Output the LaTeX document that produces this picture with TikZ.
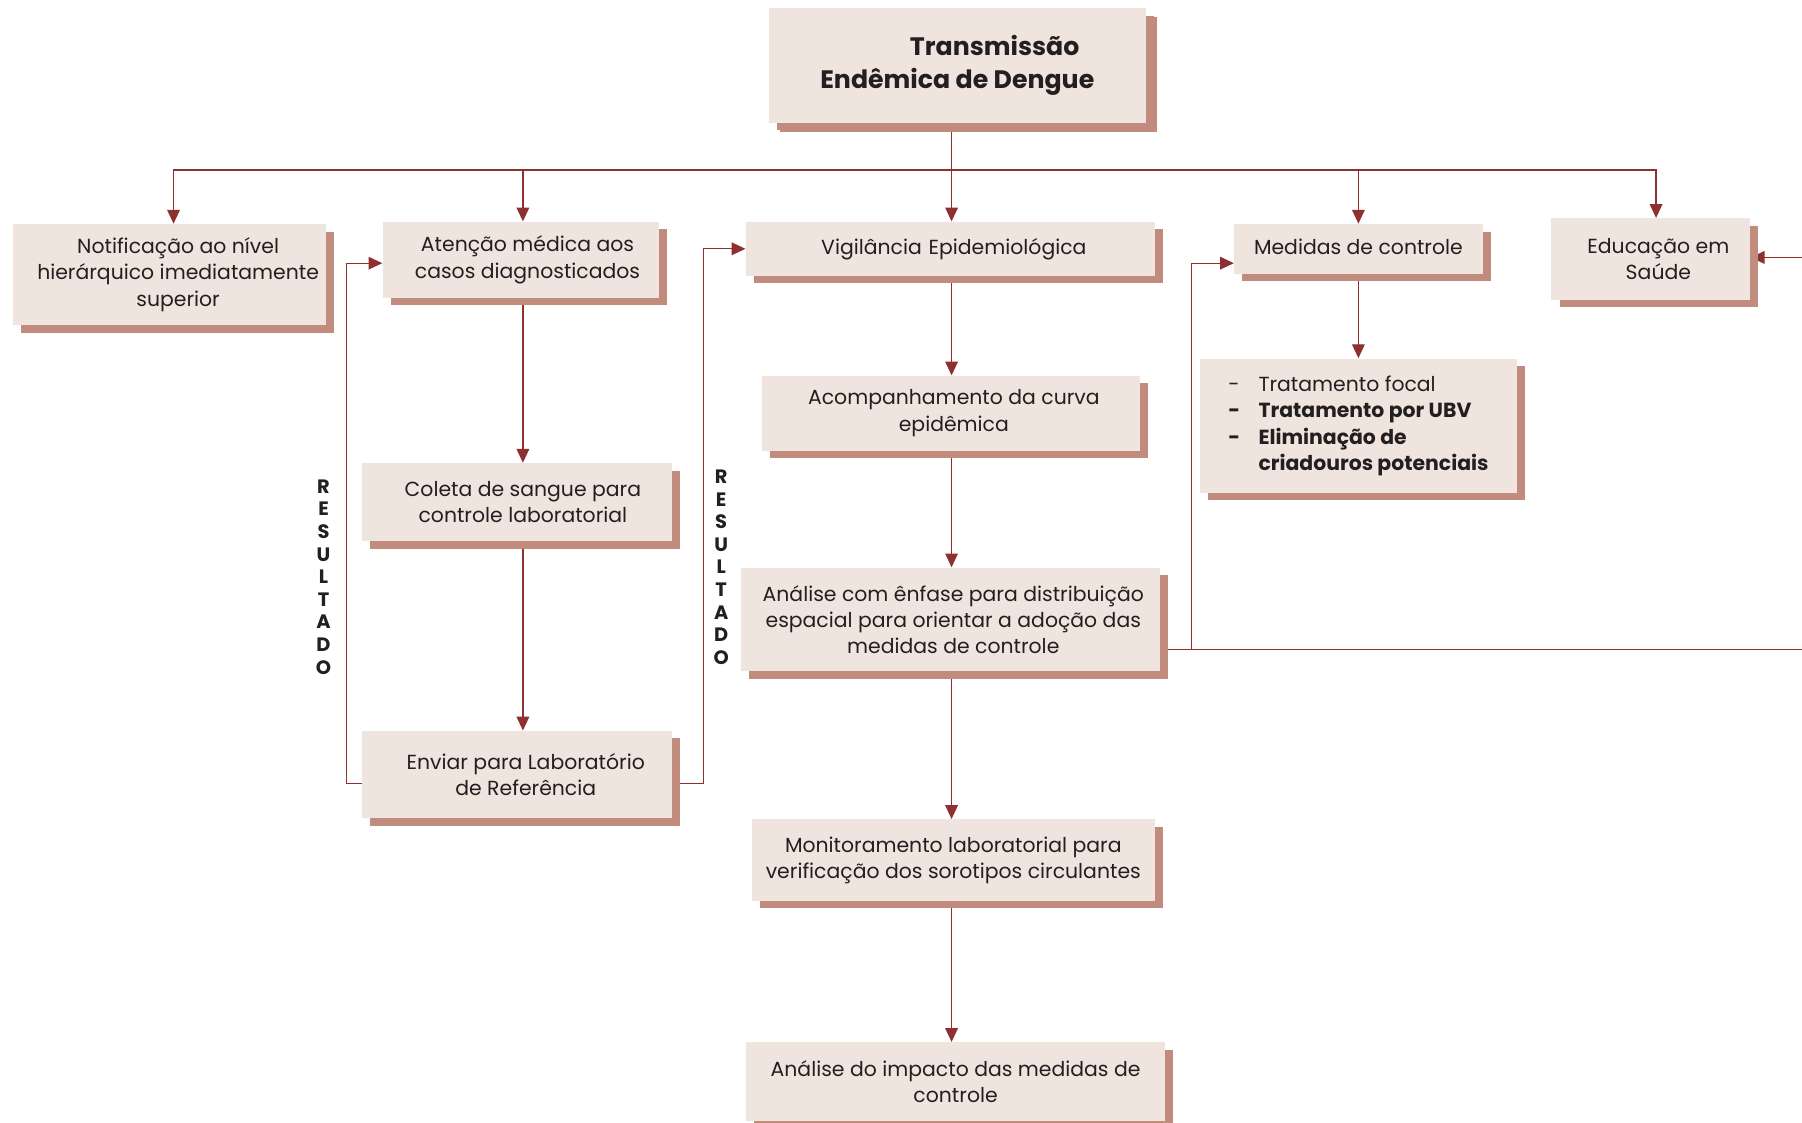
\documentclass[tikz,border=0pt]{standalone}
\usepackage{fontspec}
\setmainfont{Poppins}
\usepackage{tikz}
\usetikzlibrary{arrows.meta,shadows,backgrounds}

\definecolor{caixa}{RGB}{240,228,222}
\definecolor{sombra}{RGB}{193,140,126}
\definecolor{linha}{RGB}{142,48,48}
\definecolor{texto}{RGB}{35,31,32}

\begin{document}
\begin{tikzpicture}[x=0.2mm,y=-0.2mm]
\tikzset{flow box/.style={ %
		rectangle,
		fill=caixa,
		text=texto,
		inner sep=0pt,
		align=center,
		font=\fontsize{10.1}{13}\selectfont,
		drop shadow={shadow xshift=1.4mm,shadow yshift=-1.3mm,fill=sombra,opacity=1} %
	},
	box size/.style 2 args={minimum width=#1*0.2mm,minimum height=#2*0.2mm},
	flow line/.style={draw=linha,line width=0.6pt},
	flow arrow/.style={flow line,-{Triangle[length=2.4mm,width=2.2mm]}},
	resultado/.style={text=texto,align=center,inner sep=0pt,
		font=\fontsize{9.6}{11.2}\selectfont\bfseries}
}
\useasboundingbox (0,0) rectangle (1568,977);

\node[flow box,box size={328}{100},font=\fontsize{12.5}{16}\selectfont\bfseries,
	drop shadow={shadow xshift=2mm,shadow yshift=-1.6mm,fill=sombra,opacity=1}]
	(titulo) at (833,57) {\hspace*{13mm}Transmissão\\Endêmica de Dengue};

\node[flow box,box size={273}{88}] (notif) at (147.5,239)
	{\hspace*{3mm}Notificação ao nível\\\hspace*{3mm}hierárquico imediatamente\\\hspace*{3mm}superior};
\node[flow box,box size={240}{66}] (aten) at (453,226)
	{\hspace*{2.4mm}Atenção médica aos\\\hspace*{2.4mm}casos diagnosticados};
\node[flow box,box size={356}{47}] (vig) at (827,216.5)
	{\hspace*{1.2mm}Vigilância\,\,Epidemiológica};
\node[flow box,box size={216}{43}] (med) at (1182,216.5)
	{\raisebox{0.7mm}{Medidas de controle}};
\node[flow box,box size={173}{71}] (edu) at (1436.5,225.5)
	{\hspace*{2.6mm}Educação em\\\hspace*{2.6mm}Saúde};

\node[flow box,box size={329}{65}] (acomp) at (827.5,359.5)
	{\hspace*{1mm}Acompanhamento da curva\\\hspace*{1mm}epidêmica};
\node[flow box,box size={276}{117}] (trat) at (1182,370.5)
	{\begin{tabular}{@{}l@{\hspace{3.2mm}}l@{}}
	-&Tratamento focal\\
	\textbf{-}&\textbf{Tratamento por UBV}\\
	\textbf{-}&\textbf{Eliminação de}\\
	&\textbf{criadouros potenciais}
	\end{tabular}};
\node[flow box,box size={270}{68}] (col) at (450,437)
	{\hspace*{2mm}Coleta de sangue para\\\hspace*{2mm}controle laboratorial};
\node[flow box,box size={364}{90}] (anal) at (827,539)
	{\hspace*{1mm}Análise com ênfase para distribuição\\\hspace*{1mm}espacial para orientar a adoção das\\\hspace*{1mm}medidas de controle};
\node[flow box,box size={270}{76}] (env) at (450,674)
	{\hspace*{3mm}Enviar para Laboratório\\\hspace*{3mm}de Referência};
\node[flow box,box size={351}{71}] (mon) at (829.5,748.5)
	{Monitoramento laboratorial para\\verificação dos sorotipos circulantes};
\node[flow box,box size={365}{68}] (imp) at (831.5,941)
	{Análise do impacto das medidas de\\controle};

\node[resultado] (resL) at (281.5,502) {R\\E\\S\\U\\L\\T\\A\\D\\O};
\node[resultado] (resR) at (627.5,493.5) {R\\E\\S\\U\\L\\T\\A\\D\\O};

\coordinate (hub) at (828,148);
\coordinate (saida) at (1568,565);
\coordinate (desvio) at (1037,565);
\coordinate (retorno) at (1568,224);

\begin{scope}[on background layer]
\draw[flow line] (titulo.south -| hub) -- (hub);
\draw[flow arrow] (hub) -| ([xshift=0.7mm]notif.north);
\draw[flow arrow] (hub) -| ([xshift=0.4mm]aten.north);
\draw[flow arrow] (hub) -- (hub |- vig.north);
\draw[flow arrow] (hub) -| (med.north);
\draw[flow arrow] (hub) -| ([xshift=0.9mm]edu.north);

\draw[flow arrow] (hub |- vig.south) -- (hub |- acomp.north);
\draw[flow arrow] (hub |- acomp.south) -- (hub |- anal.north);
\draw[flow arrow] (hub |- anal.south) -- (hub |- mon.north);
\draw[flow arrow] (hub |- mon.south) -- (hub |- imp.north);

\draw[flow arrow] ([xshift=0.4mm]aten.south) -- ([xshift=0.4mm]aten.south |- col.north);
\draw[flow arrow] ([xshift=1mm]col.south) -- ([xshift=1mm]col.south |- env.north);
\draw[flow arrow] (med.south) -- (trat.north);

% retorno do resultado
\draw[flow arrow] ([yshift=-1.5mm]env.west) -- ++(-13,0) |- ([yshift=-0.6mm]aten.west);
\draw[flow arrow] ([yshift=-1.5mm]env.east) -- ++(27,0) |- (vig.west);

\draw[flow line] (anal.east |- saida) -- (saida);
\draw[flow arrow] (desvio) |- ([yshift=-2.5mm]med.west);
\draw[flow arrow] (retorno) -- (edu.east |- retorno);
\end{scope}

\end{tikzpicture}
\end{document}
